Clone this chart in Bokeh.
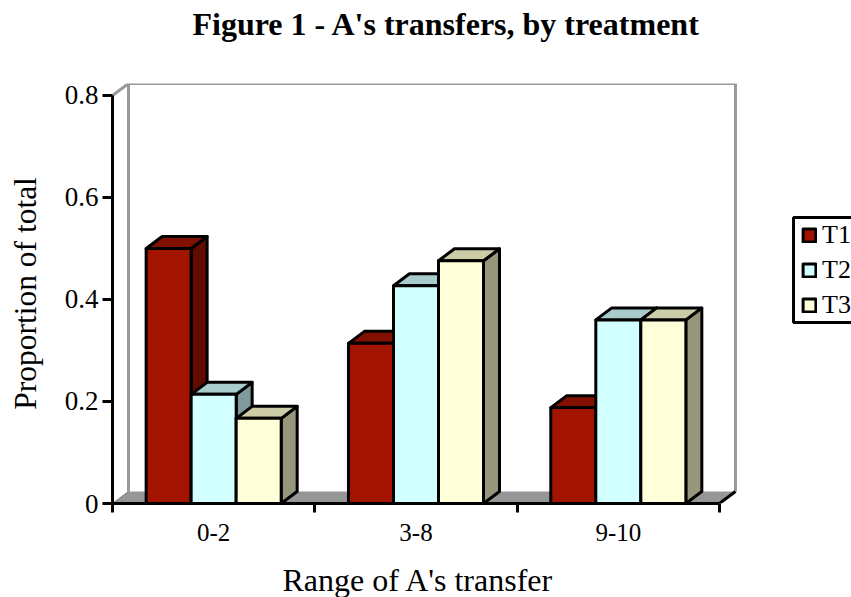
from bokeh.plotting import figure
from bokeh.models import Range1d, FixedTicker, Legend, LegendItem, BoxAnnotation, Title, LinearAxis
from bokeh.embed import file_html
from bokeh.resources import INLINE

title_text = "Figure 1 - A's transfers, by treatment"
x_title = "Range of A's transfer"
y_title = "Proportion of total"
categories = ["0-2", "3-8", "9-10"]
series_names = ["T1", "T2", "T3"]
t1 = [0.50, 0.314, 0.188]
t2 = [0.214, 0.427, 0.36]
t3 = [0.167, 0.476, 0.36]
y_ticks = [0, 0.2, 0.4, 0.6, 0.8]
y_labels = ["0", "0.2", "0.4", "0.6", "0.8"]
front_colors = ["#A31400", "#D2FFFF", "#FFFFD9"]
top_colors = ["#821000", "#A8CCCC", "#CCCCA8"]
side_colors = ["#620C00", "#7F9A9A", "#96967A"]

FONT = "Liberation Serif"
DX, DY = 0.079, 0.0235      # depth of the 3-D projection in data units
BAR_W = 0.2225
YMAX = 0.8
LW = 3
X_END = 3.6525              # frame runs to the page edge, so the legend is not clipped

p = figure(width=851, height=597, output_backend="svg", toolbar_location=None,
           x_range=Range1d(0, X_END), y_range=Range1d(0, YMAX + DY),
           min_border_left=112, min_border_right=0, min_border_top=83,
           min_border_bottom=94, outline_line_color=None,
           background_fill_color="white")
p.grid.visible = False

# floor and walls
p.patch([0, DX, 3 + DX, 3], [0, DY, DY, 0], fill_color="#969696", line_color=None)
p.line([DX, DX, 3 + DX, 3 + DX], [DY, YMAX + DY, YMAX + DY, DY], line_color="#999999", line_width=3)
p.line([0, DX], [YMAX, YMAX + DY], line_color="#999999", line_width=3)
p.line([0, DX], [0, DY], line_color="#7a7a7a", line_width=1)
p.line([3, 3 + DX], [0, DY], line_color="black", line_width=LW)

# bars
fronts = []
for g in range(len(categories)):
    for s, vals in enumerate([t1, t2, t3]):
        v = vals[g]
        x0 = g + 0.5 + (s - 1.5) * BAR_W
        x1 = x0 + BAR_W
        p.patch([x1, x1 + DX, x1 + DX, x1], [0, DY, v + DY, v],
                fill_color=side_colors[s], line_color="black", line_width=LW, line_join="round")
        p.patch([x0, x1, x1 + DX, x0 + DX], [v, v, v + DY, v + DY],
                fill_color=top_colors[s], line_color="black", line_width=LW, line_join="round")
        r = p.patch([x0, x1, x1, x0], [0, 0, v, v],
                    fill_color=front_colors[s], line_color="black", line_width=LW, line_join="round")
        if g == 0:
            fronts.append(r)

# axes
xa = p.xaxis[0]
xa.bounds = (0, 3)
xa.ticker = FixedTicker(ticks=[0.5, 1.5, 2.5], minor_ticks=[0, 1, 2, 3])
xa.major_label_overrides = {0.5: categories[0], 1.5: categories[1], 2.5: categories[2]}
xa.major_tick_out = 0
xa.major_tick_in = 0
xa.minor_tick_out = 9
xa.minor_tick_in = 0
xa.minor_tick_line_width = LW
xa.minor_tick_line_color = "black"
xa.axis_line_width = LW
xa.axis_line_color = "black"
xa.major_label_text_font = FONT
xa.major_label_text_font_size = "25px"
xa.major_label_text_color = "black"
xa.major_label_standoff = 11

ya = p.yaxis[0]
ya.bounds = (0, YMAX)
ya.ticker = FixedTicker(ticks=y_ticks)
ya.major_label_overrides = dict(zip(y_ticks, y_labels))
ya.major_tick_out = 10
ya.major_tick_in = 0
ya.minor_tick_out = 0
ya.minor_tick_in = 0
ya.major_tick_line_width = LW
ya.major_tick_line_color = "black"
ya.axis_line_width = LW
ya.axis_line_color = "black"
ya.major_label_text_font = FONT
ya.major_label_text_font_size = "27px"
ya.major_label_text_color = "black"
ya.major_label_standoff = 4
ya.axis_label = y_title
ya.axis_label_text_font = FONT
ya.axis_label_text_font_style = "normal"
ya.axis_label_text_font_size = "31.5px"
ya.axis_label_text_color = "black"
ya.axis_label_standoff = 19


def spacer(size):
    # an axis without visible marks: it only reserves room in a side panel
    return LinearAxis(ticker=FixedTicker(ticks=[1]), major_tick_out=size, major_tick_in=0,
                      minor_tick_out=0, minor_tick_in=0, major_tick_line_color=None,
                      minor_tick_line_color=None, axis_line_color=None,
                      major_label_standoff=0, major_label_overrides={1: " "},
                      major_label_text_font_size="1px")


p.add_layout(spacer(38), "above")
p.add_layout(spacer(12), "below")

# x axis title, placed with an offset because it is not centred on the frame
p.add_layout(Title(text=x_title, align="left", offset=170, standoff=0,
                   text_font=FONT, text_font_style="normal", text_font_size="32px",
                   text_color="black", text_line_height=0.9), "below")

# title
p.title.text = title_text
p.title.text_font = FONT
p.title.text_font_style = "bold"
p.title.text_font_size = "32px"
p.title.text_color = "black"
p.title.align = "left"
p.title.offset = 80
p.title.standoff = 0

# legend
LEG_L, LEG_T, LEG_B = 3.366, 0.561, 0.355
p.add_layout(BoxAnnotation(left=LEG_L, right=X_END + 0.2, top=LEG_T, bottom=LEG_B,
                           fill_alpha=0, line_color="black", line_width=LW, line_alpha=1))
legend = Legend(items=[LegendItem(label=n, renderers=[r]) for n, r in zip(series_names, fronts)],
                orientation="vertical", location=(689, 183),
                border_line_color=None, background_fill_alpha=0,
                label_text_font=FONT, label_text_font_size="26px", label_text_color="black",
                glyph_width=16, glyph_height=16, padding=0, spacing=5, margin=0,
                label_standoff=5)
p.add_layout(legend, "center")

open("out.html", "w").write(file_html(p, INLINE))
